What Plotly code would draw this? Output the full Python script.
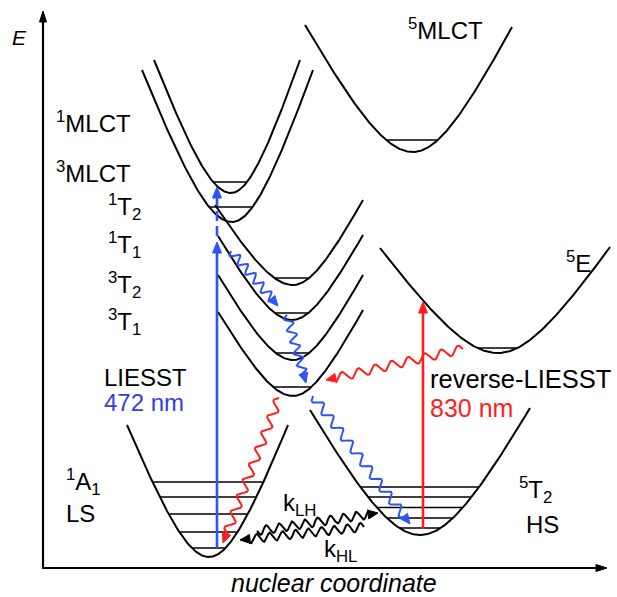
import numpy as np
import plotly.graph_objects as go

W, H = 617, 597
FONT = "Liberation Sans, Arial, sans-serif"
BLUE = "#2d55f5"
BLUE_TXT = "#3a3ae6"
RED = "#ff1e1e"

# ---------------- data (picture coordinates: q = nuclear coordinate, y = energy, downwards) -------------
curve_names = ["1A1", "5T2", "3T1", "3T2", "1T1", "1T2", "3MLCT", "1MLCT", "5E", "5MLCT"]
curve_q0 = [209, 420, 293, 293, 292, 293, 232, 231, 498, 413]   # minimum position
curve_y0 = [557, 535, 396, 360, 320, 285, 222, 193, 353, 152]   # minimum energy
curve_qL = [127, 310, 218, 218, 218, 215, 142, 154, 380, 305]   # left end
curve_yL = [425, 410, 312, 275, 236, 205, 70, 60, 248, 25]
curve_qR = [288, 530, 363, 363, 363, 363, 313, 300, 610, 512]   # right end
curve_yR = [425, 408, 310, 275, 235, 200, 70, 60, 247, 27]

# vibrational levels (energy) for each curve
levels_LS = [482, 497, 514, 532, 548]
levels_HS = [487, 497, 507.5, 518, 528]
levels_single = {"3T1": 387, "3T2": 353, "1T1": 313, "1T2": 278,
                 "3MLCT": 207, "1MLCT": 182, "5E": 348, "5MLCT": 140}

# straight optical transitions: (q, y_start, y_end, colour, dashed)
opt_q = [217, 217, 423]
opt_y_from = [548, 236, 529]
opt_y_to = [242, 187, 302]
opt_color = [BLUE, BLUE, RED]
opt_dash = [False, True, False]

# wavy (non-radiative) transitions
wavy_from = [(231, 251), (287, 315), (313, 396), (463, 349), (279, 398), (257, 531), (364, 527)]
wavy_to = [(278, 306), (306, 383), (410, 524), (326, 380), (223, 543), (378, 513), (240, 540)]
wavy_color = [BLUE, BLUE, BLUE, RED, RED, "black", "black"]
wavy_len = [12, 12, 16, 17, 17, 13, 13]

# text labels
label_text = ["<sup>1</sup>MLCT", "<sup>3</sup>MLCT", "<sup>1</sup>T<sub>2</sub>", "<sup>1</sup>T<sub>1</sub>",
              "<sup>3</sup>T<sub>2</sub>", "<sup>3</sup>T<sub>1</sub>", "LIESST", "472 nm",
              "<sup>1</sup>A<sub>1</sub>", "LS", "<sup>5</sup>T<sub>2</sub>", "HS", "reverse-LIESST",
              "830 nm", "<sup>5</sup>MLCT", "<sup>5</sup>E", "k<sub>LH</sub>", "k<sub>HL</sub>"]
label_x = [54, 54, 106, 106, 106, 106, 102, 102, 64, 64, 517, 524, 428, 428, 406, 564, 281, 322]
label_y = [122, 172, 207, 245, 285, 322, 377, 402, 482, 513, 490, 524, 379, 408, 29, 262, 504, 550]
label_size = [24, 24, 24, 24, 24, 24, 24, 24, 24, 24, 24, 24, 25.5, 25, 24, 24, 24, 24]
label_color = ["black"] * 7 + [BLUE_TXT] + ["black"] * 5 + [RED] + ["black"] * 4

C = 0.5  # roundness of the potential wells
D = np.sqrt(1 + 1 / C ** 2) - 1


def shape(u):
    return (np.sqrt(1 + (u / C) ** 2) - 1) / D


def inv_shape(v):
    return C * np.sqrt((1 + v * D) ** 2 - 1)


fig = go.Figure()


def line(xs, ys, color="black", width=2.0, dash=None):
    fig.add_trace(go.Scatter(x=list(xs), y=list(ys), mode="lines",
                             line=dict(color=color, width=width, dash=dash),
                             hoverinfo="skip", showlegend=False))


def head(tip, d, color, length=10, half=4):
    d = np.array(d, float)
    d /= np.linalg.norm(d)
    n = np.array([-d[1], d[0]])
    t = np.array(tip, float)
    b = t - length * d
    p1, p2 = b + half * n, b - half * n
    fig.add_trace(go.Scatter(x=[t[0], p1[0], p2[0], t[0]], y=[t[1], p1[1], p2[1], t[1]],
                             mode="lines", fill="toself", fillcolor=color,
                             line=dict(color=color, width=1), hoverinfo="skip", showlegend=False))


# potential wells
idx = {n: i for i, n in enumerate(curve_names)}
for i in range(len(curve_names)):
    u = np.linspace(0, 1, 120)
    q0, y0 = curve_q0[i], curve_y0[i]
    ql = q0 + (curve_qL[i] - q0) * u
    yl = y0 - (y0 - curve_yL[i]) * shape(u)
    qr = q0 + (curve_qR[i] - q0) * u
    yr = y0 - (y0 - curve_yR[i]) * shape(u)
    line(np.concatenate([ql[::-1], qr]), np.concatenate([yl[::-1], yr]), width=2.0)


def level(name, y):
    i = idx[name]
    q0, y0 = curve_q0[i], curve_y0[i]
    ul = inv_shape((y0 - y) / (y0 - curve_yL[i]))
    ur = inv_shape((y0 - y) / (y0 - curve_yR[i]))
    a = q0 + (curve_qL[i] - q0) * ul
    b = q0 + (curve_qR[i] - q0) * ur
    line([a, b], [y, y], width=1.6)


for y in levels_LS:
    level("1A1", y)
for y in levels_HS:
    level("5T2", y)
for name, y in levels_single.items():
    level(name, y)

# axes
line([43, 43], [568, 20], width=2.2)
head((43, 11), (0, -1), "black", 11, 3.5)
line([42, 598], [568, 568], width=2.2)
head((607, 568), (1, 0), "black", 11, 3.5)

# optical transitions
for q, y1, y2, c, dsh in zip(opt_q, opt_y_from, opt_y_to, opt_color, opt_dash):
    line([q, q], [y1, y2 + 9], color=c, width=2.6, dash="10px,5px" if dsh else None)
    head((q, y2), (0, -1), c, 11, 4.5)

# wavy transitions
for (p0, p1, c, lam) in zip(wavy_from, wavy_to, wavy_color, wavy_len):
    p0 = np.array(p0, float)
    p1 = np.array(p1, float)
    d = p1 - p0
    L = np.linalg.norm(d)
    d /= L
    n = np.array([-d[1], d[0]])
    hl = 9
    s = np.linspace(0, L - hl, 400)
    amp = 4.3
    pts = p0[None, :] + s[:, None] * d[None, :] + (amp * np.sin(2 * np.pi * s / lam))[:, None] * n[None, :]
    line(pts[:, 0], pts[:, 1], color=c, width=2.0)
    head(tuple(p1), tuple(d), c, 10, 4.5)

# labels
for t, x, y, c, sz in zip(label_text, label_x, label_y, label_color, label_size):
    fig.add_annotation(x=x, y=y, text=t, showarrow=False, xanchor="left", yanchor="middle",
                       font=dict(family=FONT, size=sz, color=c))

fig.add_annotation(x=19, y=37, text="<i>E</i>", showarrow=False, xanchor="center", yanchor="middle",
                   font=dict(family=FONT, size=21, color="black"))
fig.add_annotation(x=334, y=583, text="<i>nuclear coordinate</i>", showarrow=False, xanchor="center",
                   yanchor="middle", font=dict(family=FONT, size=25, color="black"))

fig.update_layout(width=W, height=H, margin=dict(l=0, r=0, t=0, b=0),
                  paper_bgcolor="white", plot_bgcolor="white",
                  xaxis=dict(range=[0, W], visible=False, fixedrange=True),
                  yaxis=dict(range=[H, 0], visible=False, fixedrange=True),
                  showlegend=False)
fig.write_html("out.html")
